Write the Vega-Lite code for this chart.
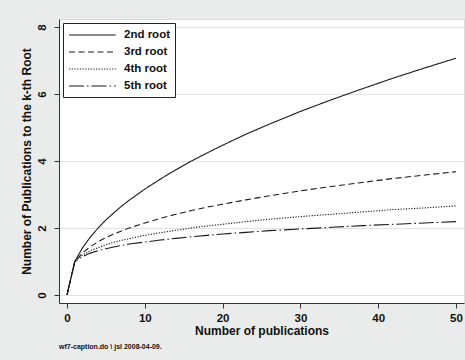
{
  "$schema": "https://vega.github.io/schema/vega-lite/v6.json",
  "width": 405,
  "height": 284,
  "autosize": "none",
  "padding": {"left": 59, "top": 19, "right": 1, "bottom": 57},
  "background": "#eaecec",
  "title": {"text": "wf7-caption.do \\ jsl 2008-04-09.", "orient": "bottom", "anchor": "start", "frame": "group", "fontSize": 7, "font": "Liberation Sans", "fontWeight": "bold", "color": "#111111", "offset": 6},
  "data": {"values": [
    {"n": 0, "2nd root": 0, "3rd root": 0, "4th root": 0, "5th root": 0},
    {"n": 1, "2nd root": 1, "3rd root": 1, "4th root": 1, "5th root": 1},
    {"n": 2, "2nd root": 1.41, "3rd root": 1.26, "4th root": 1.19, "5th root": 1.15},
    {"n": 3, "2nd root": 1.73, "3rd root": 1.44, "4th root": 1.32, "5th root": 1.25},
    {"n": 4, "2nd root": 2.0, "3rd root": 1.59, "4th root": 1.41, "5th root": 1.32},
    {"n": 5, "2nd root": 2.24, "3rd root": 1.71, "4th root": 1.5, "5th root": 1.38},
    {"n": 6, "2nd root": 2.45, "3rd root": 1.82, "4th root": 1.57, "5th root": 1.43},
    {"n": 7, "2nd root": 2.65, "3rd root": 1.91, "4th root": 1.63, "5th root": 1.48},
    {"n": 8, "2nd root": 2.83, "3rd root": 2.0, "4th root": 1.68, "5th root": 1.52},
    {"n": 10, "2nd root": 3.16, "3rd root": 2.15, "4th root": 1.78, "5th root": 1.58},
    {"n": 12, "2nd root": 3.46, "3rd root": 2.29, "4th root": 1.86, "5th root": 1.64},
    {"n": 14, "2nd root": 3.74, "3rd root": 2.41, "4th root": 1.93, "5th root": 1.69},
    {"n": 16, "2nd root": 4.0, "3rd root": 2.52, "4th root": 2.0, "5th root": 1.74},
    {"n": 18, "2nd root": 4.24, "3rd root": 2.62, "4th root": 2.06, "5th root": 1.78},
    {"n": 20, "2nd root": 4.47, "3rd root": 2.71, "4th root": 2.11, "5th root": 1.82},
    {"n": 23, "2nd root": 4.8, "3rd root": 2.84, "4th root": 2.19, "5th root": 1.87},
    {"n": 26, "2nd root": 5.1, "3rd root": 2.96, "4th root": 2.26, "5th root": 1.92},
    {"n": 30, "2nd root": 5.48, "3rd root": 3.11, "4th root": 2.34, "5th root": 1.97},
    {"n": 34, "2nd root": 5.83, "3rd root": 3.24, "4th root": 2.41, "5th root": 2.02},
    {"n": 38, "2nd root": 6.16, "3rd root": 3.36, "4th root": 2.48, "5th root": 2.07},
    {"n": 42, "2nd root": 6.48, "3rd root": 3.48, "4th root": 2.55, "5th root": 2.11},
    {"n": 46, "2nd root": 6.78, "3rd root": 3.58, "4th root": 2.6, "5th root": 2.15},
    {"n": 50, "2nd root": 7.07, "3rd root": 3.68, "4th root": 2.66, "5th root": 2.19}
  ]},
  "transform": [{"fold": ["2nd root", "3rd root", "4th root", "5th root"], "as": ["series", "value"]}],
  "mark": {"type": "line", "color": "#1a1a1a", "strokeWidth": 1.1, "clip": true},
  "encoding": {
    "x": {"field": "n", "type": "quantitative",
      "scale": {"domain": [-1.03, 51.03], "nice": false, "zero": false},
      "axis": {"values": [0, 10, 20, 30, 40, 50], "title": "Number of publications", "grid": false, "labelPadding": 4, "titlePadding": 2}},
    "y": {"field": "value", "type": "quantitative",
      "scale": {"domain": [-0.24, 8.24], "nice": false, "zero": false},
      "axis": {"values": [0, 2, 4, 6, 8], "title": "Number of Publications to the k-th Root", "grid": true, "labelAngle": -90, "labelAlign": "center", "labelBaseline": "bottom", "labelPadding": 7, "titlePadding": 3}},
    "strokeDash": {"field": "series", "type": "nominal",
      "scale": {"domain": ["2nd root", "3rd root", "4th root", "5th root"], "range": [[1, 0], [6, 3.5], [1.2, 1.5], [15, 3, 1.5, 3]]},
      "legend": {"title": null, "orient": "none", "legendX": 4, "legendY": 4}}
  },
  "config": {
    "view": {"fill": "white", "stroke": "#dcdcdc"},
    "axis": {"domainColor": "#333333", "tickColor": "#333333", "tickSize": 5, "labelFont": "Liberation Sans", "labelFontWeight": "bold", "labelFontSize": 11.5, "labelColor": "#111111", "titleFont": "Liberation Sans", "titleFontSize": 12, "titleFontWeight": "bold", "titleColor": "#111111", "gridColor": "#e2e2e2", "gridWidth": 1},
    "legend": {"strokeColor": "#222222", "fillColor": "white", "padding": 5, "symbolType": "M-1,0H6.8", "symbolSize": 144, "symbolStrokeWidth": 1.1, "symbolStrokeColor": "#1a1a1a", "labelFont": "Liberation Sans", "labelFontSize": 11.5, "labelFontWeight": "bold", "labelColor": "#111111", "labelOffset": 42, "rowPadding": 4}
  }
}
